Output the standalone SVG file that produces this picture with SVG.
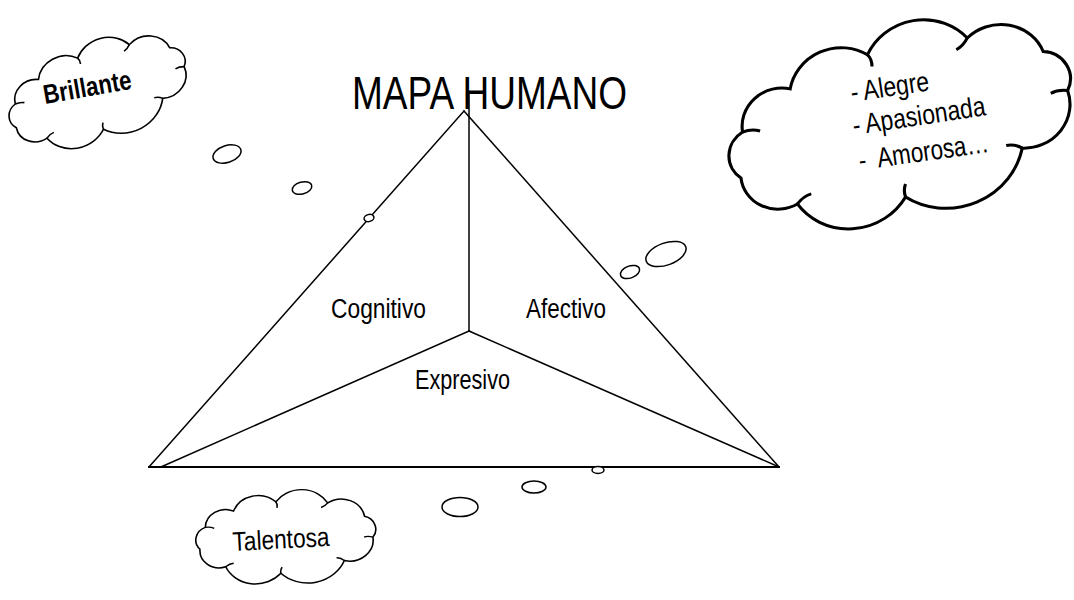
<svg xmlns="http://www.w3.org/2000/svg" xmlns:xlink="http://www.w3.org/1999/xlink" width="1074" height="600" viewBox="0 0 1074 600">
<style>
.ln{stroke:#000;stroke-width:1.5;fill:none;stroke-linecap:square}
.bub{stroke:#000;stroke-width:1.5;fill:#fff}
.cl{stroke:#000;stroke-width:1.6;fill:#fff;vector-effect:non-scaling-stroke}
.hk{stroke:#000;stroke-width:1.6;fill:none;vector-effect:non-scaling-stroke}
.t{font-family:"Liberation Sans",Arial,sans-serif;font-size:27px;fill:#000}
</style>
<defs>
<path id="cloudShape" d="M -86.7 6.9 A 14.9 14.9 0 0 1 -79.8 -16.9 A 20 20 0 0 1 -50.5 -32.8 A 26 26 0 0 1 -7.7 -39.8 A 31 31 0 0 1 44 -34.6 A 24 24 0 0 1 79.8 -16.9 A 15 15 0 0 1 86.7 6.9 A 23 23 0 0 1 56.6 30.6 A 39 39 0 0 1 -7.7 39.8 A 33 33 0 0 1 -62.2 28.3 A 19.5 19.5 0 0 1 -86.7 6.9 Z"/>
<path id="cloudHooks" d="M -79.8 -16.9 Q -75 -17.5 -71 -15 M -7.7 -39.8 Q -6 -37 -7 -33 M 44 -34.6 Q 41 -31 37 -30 M 86.7 6.9 Q 82 5 78 6 M 56.6 30.6 Q 53 27 49 27 M -7.7 39.8 Q -8 36 -6 33 M -62.2 28.3 Q -58 25 -54 25"/>
</defs>
<rect width="1074" height="600" fill="#fff"/>

<g id="connectors">
<line class="ln" x1="464" y1="111" x2="149" y2="467"/>
<line class="ln" x1="464" y1="111" x2="779" y2="467"/>
<line class="ln" x1="149" y1="467" x2="779" y2="467" style="stroke-width:2"/>
<line class="ln" x1="469" y1="92" x2="469" y2="331"/>
<line class="ln" x1="469" y1="331" x2="161" y2="467"/>
<line class="ln" x1="469" y1="331" x2="779" y2="467"/>
</g>

<g id="bubbles">
<ellipse class="bub" cx="369" cy="218" rx="5" ry="3.5" transform="rotate(-15 369 218)"/>
<ellipse class="bub" cx="302" cy="188" rx="10" ry="6" transform="rotate(-15 302 188)"/>
<ellipse class="bub" cx="227" cy="154" rx="14.5" ry="8.5" transform="rotate(-18 227 154)"/>
<ellipse class="bub" cx="630" cy="272" rx="10" ry="6" transform="rotate(-20 630 272)"/>
<ellipse class="bub" cx="666" cy="254" rx="21" ry="11" transform="rotate(-20 666 254)"/>
<ellipse class="bub" cx="598" cy="470" rx="6" ry="3.5"/>
<ellipse class="bub" cx="534" cy="487" rx="12" ry="6"/>
<ellipse class="bub" cx="460" cy="507" rx="18" ry="9.5"/>
</g>

<g id="title">
<text class="t" x="352" y="109" style="font-size:46px" textLength="275" lengthAdjust="spacingAndGlyphs">MAPA HUMANO</text>
</g>

<g id="cognitivo">
<text class="t" x="331" y="318" textLength="95" lengthAdjust="spacingAndGlyphs">Cognitivo</text>
</g>
<g id="afectivo">
<text class="t" x="526" y="318" textLength="80" lengthAdjust="spacingAndGlyphs">Afectivo</text>
</g>
<g id="expresivo">
<text class="t" x="415" y="389" textLength="95" lengthAdjust="spacingAndGlyphs">Expresivo</text>
</g>

<g id="cloud-brillante">
<g transform="translate(98 91) rotate(-20) scale(1.03 0.95)">
<use xlink:href="#cloudShape" class="cl"/>
<use xlink:href="#cloudHooks" class="hk"/>
</g>
<text class="t" x="45" y="104" style="font-weight:bold" textLength="89" lengthAdjust="spacingAndGlyphs" transform="rotate(-10 45 104)">Brillante</text>
</g>

<g id="cloud-alegre">
<g transform="translate(901 122) rotate(-15) scale(1.95 1.85)">
<use xlink:href="#cloudShape" class="cl"/>
<use xlink:href="#cloudHooks" class="hk"/>
</g>
<text class="t" x="852" y="102" style="font-size:28px" textLength="79" lengthAdjust="spacingAndGlyphs" transform="rotate(-8.5 852 102)">- Alegre</text>
<text class="t" x="854" y="135" style="font-size:28px" textLength="134" lengthAdjust="spacingAndGlyphs" transform="rotate(-8.5 854 135)">- Apasionada</text>
<text class="t" x="860" y="170" style="font-size:28px;white-space:pre" textLength="131" lengthAdjust="spacingAndGlyphs" transform="rotate(-8 860 170)">-  Amorosa…</text>
</g>

<g id="cloud-talentosa">
<g transform="translate(286 537) rotate(-4) scale(1.0 0.9)">
<use xlink:href="#cloudShape" class="cl"/>
<use xlink:href="#cloudHooks" class="hk"/>
</g>
<text class="t" x="233" y="551" textLength="97" lengthAdjust="spacingAndGlyphs" transform="rotate(-3 233 551)">Talentosa</text>
</g>
</svg>
